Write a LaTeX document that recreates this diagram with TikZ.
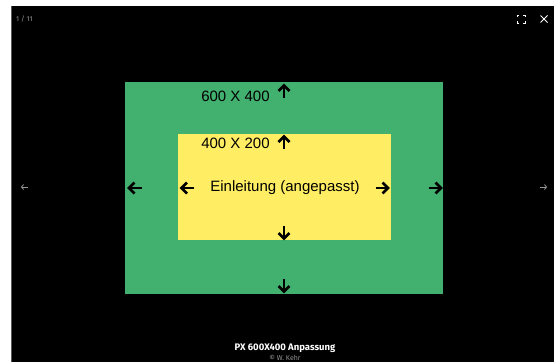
\documentclass[tikz,border=0pt]{standalone}
\usepackage{fontspec}
\setmainfont{Liberation Sans}
\newfontfamily\capfont{Fira Sans}
\usetikzlibrary{arrows.meta}
\definecolor{framegreen}{RGB}{66,176,110}
\definecolor{boxyellow}{RGB}{255,238,99}
\definecolor{uigray}{RGB}{150,150,150}
\tikzset{
  heavyarrow/.style={line width=2.8pt, line join=miter, line cap=butt},
  sizelabel/.style={font=\fontsize{15}{15}\selectfont, text=black, inner sep=0pt, anchor=center},
  pics/arrowup/.style={code={
    \draw[heavyarrow] (0,7) -- (0,-5.5);
    \draw[heavyarrow] (-5.5,0) -- (0,-5.5) -- (5.5,0);
  }},
}
\begin{document}
\begin{tikzpicture}[x=1pt,y=-1pt]
\useasboundingbox (0,0) rectangle (554,362);
\fill[white] (0,0) rectangle (554,362);
\fill[black] (12,6) rectangle (554,362);
\draw[gray!70!black, line width=1.2pt] (11.6,6) -- (11.6,362);
% frames
\node[fill=framegreen, minimum width=318pt, minimum height=212pt, inner sep=0pt, anchor=north west] (outer) at (125,82) {};
\node[fill=boxyellow, minimum width=213pt, minimum height=106pt, inner sep=0pt, anchor=north west] (inner) at (178,134) {};
% labels
\node[sizelabel] (outerlabel) at (235.5,96) {600 X 400};
\node[sizelabel] (innerlabel) at (235.5,143) {400 X 200};
\node[sizelabel] (title) at (285,188) {Einleitung (angepasst)};
% heavy arrows
\pic at (284,91) {arrowup};
\pic at (284,142) {arrowup};
\pic[rotate=180] at (284,233) {arrowup};
\pic[rotate=180] at (284,286) {arrowup};
\pic[rotate=90] at (134.5,188) {arrowup};
\pic[rotate=90] at (187,188) {arrowup};
\pic[rotate=-90] at (382.5,188) {arrowup};
\pic[rotate=-90] at (435.5,188) {arrowup};
% viewer UI
\node[text=uigray, font=\capfont\fontsize{7}{7}\selectfont, anchor=west, inner sep=0pt] (counter) at (16,19) {1 / 11};
\node[text=white, font=\capfont\bfseries\fontsize{9.5}{9.5}\selectfont, inner sep=0pt] (caption) at (285,348) {PX 600X400 Anpassung};
\node[text=uigray, font=\capfont\fontsize{7}{7}\selectfont, inner sep=0pt] (credit) at (285,357.5) {© W. Kehr};
% left/right navigation arrows
\coordinate (navL) at (24,187);
\coordinate (navR) at (544,187);
\draw[uigray, line width=0.8pt, -{Straight Barb[length=2pt,width=5pt]}] ([xshift=4pt]navL) -- ([xshift=-3pt]navL);
\draw[uigray, line width=0.8pt, -{Straight Barb[length=2pt,width=5pt]}] ([xshift=-4pt]navR) -- ([xshift=3pt]navR);
% fullscreen icon
\coordinate (fs) at (521,19);
\begin{scope}[shift={(fs)}, white, line width=0.8pt]
  \draw (-4,-2) -- (-4,-4) -- (-2,-4);
  \draw (2,-4) -- (4,-4) -- (4,-2);
  \draw (4,2) -- (4,4) -- (2,4);
  \draw (-2,4) -- (-4,4) -- (-4,2);
\end{scope}
% close icon
\coordinate (cl) at (544,19);
\draw[white, line width=1pt] ([shift={(-3.5,-3.5)}]cl) -- ([shift={(3.5,3.5)}]cl);
\draw[white, line width=1pt] ([shift={(-3.5,3.5)}]cl) -- ([shift={(3.5,-3.5)}]cl);
\end{tikzpicture}
\end{document}
